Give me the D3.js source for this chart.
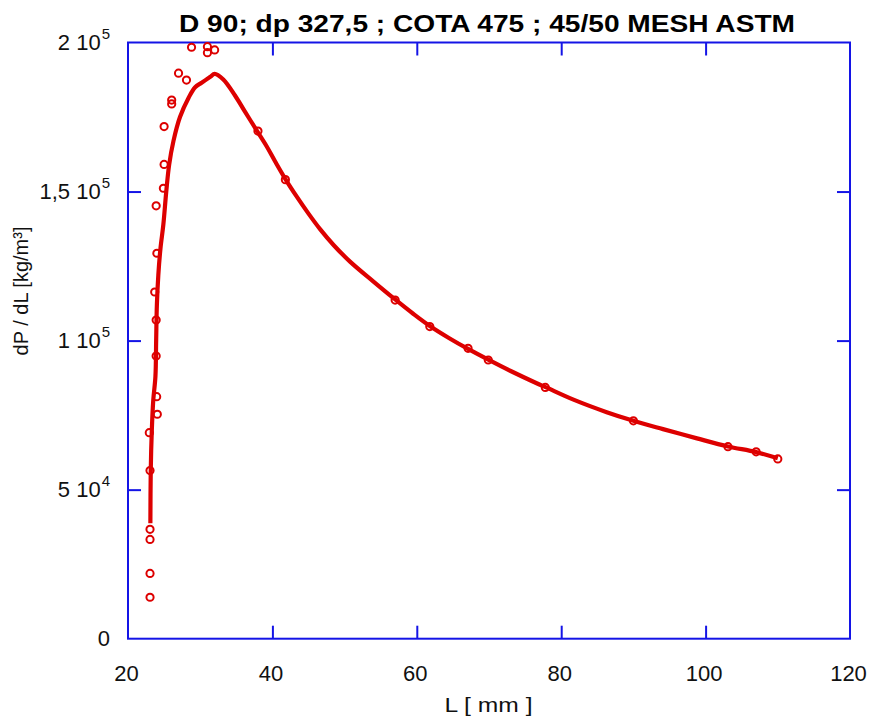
<!DOCTYPE html>
<html><head><meta charset="utf-8">
<script src="https://cdn.jsdelivr.net/npm/d3@7"></script>
<style>body{margin:0;background:#fff}svg{display:block}</style>
</head><body>
<svg id="c" width="872" height="722"></svg>
<script>
const titleText = "D 90; dp 327,5 ; COTA 475 ; 45/50 MESH ASTM";
const xLabel = "L [ mm ]";
const yLabel = "dP / dL [kg/m³]";
const xTicks = [20, 40, 60, 80, 100, 120];
const yTicks = [0, 50000, 100000, 150000, 200000];
const yTickMain = ["0", "5 10", "1 10", "1,5 10", "2 10"];
const yTickExp = ["", "4", "5", "5", "5"];

// fitted curve (L mm, dP/dL kg/m³)
const curveL = [23.1,23.15,23.3,23.5,23.8,23.9,24.0,24.2,24.5,24.9,25.3,25.7,26.3,27.2,28.4,29.3,30.2,31.4,32.0,33.2,34.8,36.2,37.8,39.2,40.4,41.8,43.4,45.0,46.6,48.5,50.75,54.0,57.0,59.5,61.8,64.5,67.1,69.9,73.0,76.6,78.0,81.7,86.3,90.0,94.1,98.8,103.1,107.0,110.0];
const curveP = [38700,56000,70000,80000,88000,100000,112000,122000,131000,139000,150000,159000,167000,175000,181500,185000,186500,188500,189500,187600,182300,176800,170600,165200,160000,154200,148200,142600,137400,132000,126500,119800,113800,109000,104900,100800,97200,93600,89800,85700,84200,80200,76000,73100,70300,67200,64500,62600,60500];

// measured points
const ptL = [23.05,23.05,23.05,23.05,23.05,22.95,24.06,23.97,23.9,23.9,23.7,24.0,23.9,24.9,25.0,25.0,26.05,26.05,28.1,27.0,28.8,31.0,31.0,32.0,38.0,41.8,57.0,61.8,67.1,69.9,77.8,90.0,103.1,107.0,110.0];
const ptP = [13900,21900,33300,36700,56400,69100,75300,81200,94800,106900,116300,129300,145200,151100,159100,171800,179400,180700,187400,189700,198400,196600,198600,197500,170300,154000,113600,104700,97400,93500,84300,73100,64400,62700,60300];

const svg = d3.select("#c");
const L = 128, R = 850, T = 42.5, B = 638.7;
const x = d3.scaleLinear().domain([20, 120]).range([L, R]);
const y = d3.scaleLinear().domain([0, 200000]).range([B, T]);
const blue = "#1414e6", red = "#dd0000";
const font = "'Liberation Sans', Arial, sans-serif";

const inner = xTicks.slice(1, -1), innerY = yTicks.slice(1, -1);
const tk = 13;
svg.append("g").attr("transform", `translate(0,${B})`)
  .call(d3.axisTop(x).tickValues(inner).tickSize(tk).tickFormat("").tickSizeOuter(0));
svg.append("g").attr("transform", `translate(0,${T})`)
  .call(d3.axisBottom(x).tickValues(inner).tickSize(tk).tickFormat("").tickSizeOuter(0));
svg.append("g").attr("transform", `translate(${L},0)`)
  .call(d3.axisRight(y).tickValues(innerY).tickSize(tk).tickFormat("").tickSizeOuter(0));
svg.append("g").attr("transform", `translate(${R},0)`)
  .call(d3.axisLeft(y).tickValues(innerY).tickSize(tk).tickFormat("").tickSizeOuter(0));
svg.selectAll(".domain").remove();
svg.selectAll(".tick line").attr("stroke", blue).attr("stroke-width", 2);
svg.append("rect").attr("x", L).attr("y", T).attr("width", R - L).attr("height", B - T)
  .attr("fill", "none").attr("stroke", blue).attr("stroke-width", 2);

svg.append("g").selectAll("text").data(xTicks).join("text")
  .attr("x", d => x(d) - 1.5).attr("y", 681)
  .attr("text-anchor", "middle").attr("font-family", font).attr("font-size", 22)
  .attr("fill", "#111").text(d => d);

const yl = svg.append("g").selectAll("text").data(yTicks).join("text")
  .attr("x", 110).attr("y", d => y(d) + 7.5)
  .attr("text-anchor", "end").attr("font-family", font).attr("font-size", 22).attr("fill", "#111");
yl.each(function(d, i) {
  const t = d3.select(this);
  t.append("tspan").text(yTickMain[i]);
  if (yTickExp[i]) t.append("tspan").attr("font-size", 15).attr("dy", -11).attr("dx", 1).text(yTickExp[i]);
});

svg.append("text").attr("x", 487).attr("y", 32).attr("text-anchor", "middle")
  .attr("font-family", font).attr("font-weight", "bold").attr("font-size", 24)
  .attr("textLength", 616).attr("lengthAdjust", "spacingAndGlyphs").attr("fill", "#000").text(titleText);

svg.append("text").attr("x", 488.5).attr("y", 712).attr("text-anchor", "middle")
  .attr("font-family", font).attr("font-size", 20).attr("textLength", 88).attr("lengthAdjust", "spacingAndGlyphs")
  .attr("fill", "#111").text(xLabel);
svg.append("text").attr("transform", "translate(28,291) rotate(-90)").attr("text-anchor", "middle")
  .attr("font-family", font).attr("font-size", 20).attr("fill", "#111").text(yLabel);

const line = d3.line().curve(d3.curveCatmullRom.alpha(0.5))
  .x((d, i) => x(curveL[i])).y((d, i) => y(curveP[i]));
svg.append("path").datum(curveL).attr("d", line).attr("fill", "none")
  .attr("stroke", red).attr("stroke-width", 4.2).attr("stroke-linejoin", "round");

svg.append("g").selectAll("circle").data(ptL).join("circle")
  .attr("cx", (d, i) => x(ptL[i])).attr("cy", (d, i) => y(ptP[i])).attr("r", 3.6)
  .attr("fill", "none").attr("stroke", red).attr("stroke-width", 2);
</script>
</body></html>
